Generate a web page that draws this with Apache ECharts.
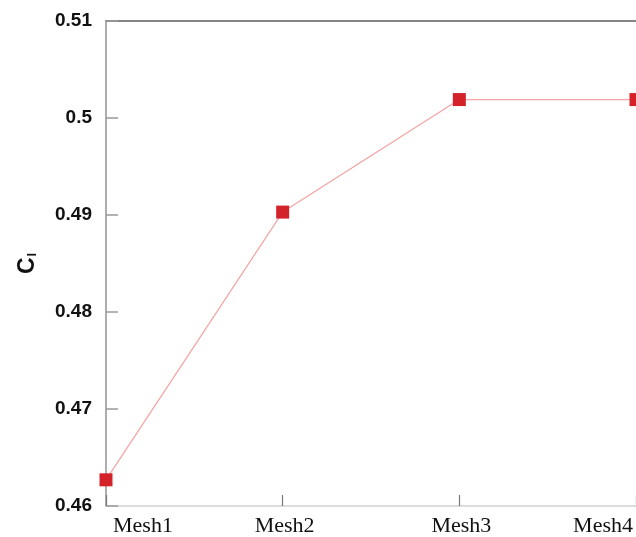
<!DOCTYPE html>
<html>
<head>
<meta charset="utf-8">
<script src="https://cdn.jsdelivr.net/npm/echarts@6/dist/echarts.min.js"></script>
<style>
html,body{margin:0;padding:0;background:#fff;}
#chart{width:636px;height:537px;}
</style>
</head>
<body>
<div id="chart"></div>
<script>
const categories = ['Mesh1', 'Mesh2', 'Mesh3', 'Mesh4'];
const clValues = [0.4627, 0.4903, 0.5019, 0.5019];
const yMin = 0.46, yMax = 0.51, yStep = 0.01;

const chart = echarts.init(document.getElementById('chart'));
chart.setOption({
  backgroundColor: '#ffffff',
  animation: false,
  grid: { left: 106, right: 0, top: 21, bottom: 30, containLabel: false },
  xAxis: [{
    type: 'category',
    data: categories,
    boundaryGap: false,
    position: 'bottom',
    axisLine: { show: true, lineStyle: { color: '#cfd3d3', width: 1.5 } },
    axisTick: { show: true, inside: true, length: 11, alignWithLabel: true, lineStyle: { color: '#777', width: 1.2 } },
    axisLabel: {
      show: true, margin: 9, color: '#111',
      fontFamily: 'Liberation Serif', fontSize: 22,
      alignMinLabel: 'left', alignMaxLabel: 'right',
      padding: [0, 3, 0, 7]
    },
    splitLine: { show: false }
  }, {
    type: 'category',
    data: categories,
    boundaryGap: false,
    position: 'top',
    axisLine: { show: true, lineStyle: { color: '#858585', width: 1.8 } },
    axisTick: { show: false },
    axisLabel: { show: false },
    splitLine: { show: false }
  }],
  yAxis: {
    type: 'value',
    min: yMin, max: yMax, interval: yStep,
    name: '{c|C}{l|l}',
    nameLocation: 'middle',
    nameGap: 67,
    nameTextStyle: {
      rich: {
        c: { fontFamily: 'Liberation Sans', fontWeight: 'bold', fontSize: 23, color: '#111' },
        l: { fontFamily: 'Liberation Sans', fontWeight: 'bold', fontSize: 13, color: '#111', verticalAlign: 'bottom', padding: [10, 0, 0, 1] }
      }
    },
    axisLine: { show: true, lineStyle: { color: '#a5a5a5', width: 1.8 } },
    axisTick: { show: true, inside: true, length: 12, lineStyle: { color: '#999', width: 1.5 } },
    axisLabel: {
      margin: 14, color: '#111',
      fontFamily: 'Liberation Sans', fontWeight: 'bold', fontSize: 19
    },
    splitLine: { show: false }
  },
  series: [{
    type: 'line',
    data: clValues,
    symbol: 'rect',
    symbolSize: 13,
    clip: false,
    itemStyle: { color: '#d4222a' },
    lineStyle: { color: '#f4a3a3', width: 1.2 }
  }]
});
</script>
</body>
</html>
